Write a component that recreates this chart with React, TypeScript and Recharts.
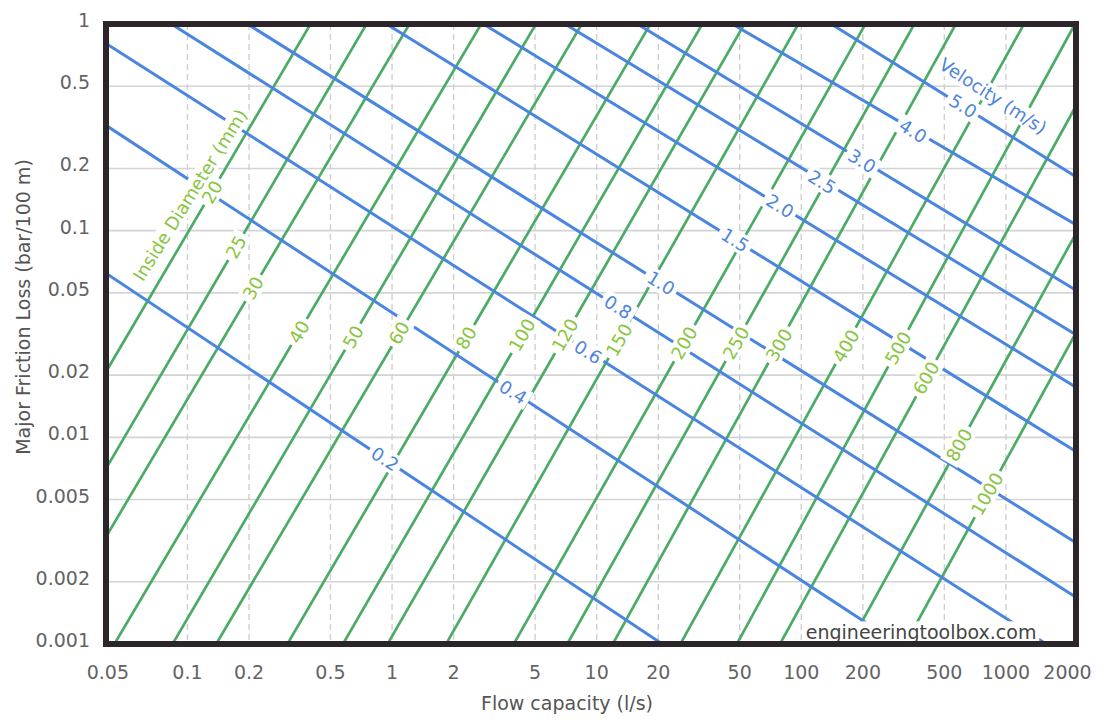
import React from "react";
import {
  LineChart,
  Line,
  XAxis,
  YAxis,
  CartesianGrid,
  ReferenceDot,
  ReferenceArea,
} from "recharts";

const FONT = "'DejaVu Sans', Verdana, sans-serif";

// axis ticks
const xTicks = [0.05, 0.1, 0.2, 0.5, 1, 2, 5, 10, 20, 50, 100, 200, 500, 1000, 2000];
const yTicks = [0.001, 0.002, 0.005, 0.01, 0.02, 0.05, 0.1, 0.2, 0.5, 1];
// gridline values
const xGrid = [0.1, 0.2, 0.5, 1, 2, 5, 10, 20, 50, 100, 200, 500, 1000];
const yGrid = [0.002, 0.005, 0.01, 0.02, 0.05, 0.1, 0.2, 0.5];

// velocity lines (m/s): [flow l/s, friction loss bar/100 m]
const velocityNames = ["0.2", "0.4", "0.6", "0.8", "1.0", "1.5", "2.0", "2.5", "3.0", "4.0", "5.0"];
const velocityStart: [number, number][] = [
  [0.03739, 0.06503], [0.03739, 0.3375], [0.03739, 0.8405], [0.0777, 1.046],
  [0.1827, 1.046], [0.8735, 1.046], [2.594, 1.046], [6.5, 1.046],
  [14.66, 1.046], [42.6, 1.046], [130.2, 1.046],
];
const velocityEnd: [number, number][] = [
  [23.89, 0.000916], [379.0, 0.000857], [2007, 0.000857], [2438, 0.00158],
  [2438, 0.0029], [2438, 0.00801], [2438, 0.0164], [2438, 0.0295],
  [2438, 0.0484], [2438, 0.1006], [2438, 0.1713],
];
const velocityLabelAt: [number, number][] = [
  [0.924, 0.007861], [3.903, 0.01658], [9.072, 0.02588], [12.72, 0.04274],
  [20.64, 0.05584], [47.46, 0.09017], [78.75, 0.1317], [126.4, 0.172],
  [198.2, 0.2174], [351.8, 0.3037], [617.5, 0.4012],
];

// inside diameter lines (mm)
const diameterNames = ["20", "25", "30", "40", "50", "60", "80", "100", "120", "150", "200", "250", "300", "400", "500", "600", "800", "1000"];
const diameterStart: [number, number][] = [
  [0.03739, 0.01854], [0.03739, 0.006291], [0.03739, 0.002949], [0.04226, 0.000936],
  [0.08134, 0.000936], [0.1329, 0.000936], [0.2961, 0.000936], [0.5537, 0.000936],
  [0.9148, 0.000936], [1.769, 0.000936], [3.786, 0.000936], [6.92, 0.000936],
  [11.55, 0.000936], [24.71, 0.000936], [46.41, 0.000926], [74.44, 0.000906],
  [160.0, 0.000876], [297.2, 0.000866],
];
const diameterEnd: [number, number][] = [
  [0.4157, 1.069], [0.7806, 1.069], [1.266, 1.069], [2.838, 1.069],
  [5.253, 1.069], [8.805, 1.069], [19.03, 1.069], [34.13, 1.069],
  [54.82, 1.069], [100.5, 1.069], [213.9, 1.069], [370.5, 1.069],
  [591.0, 1.069], [1272, 1.069], [2256, 1.069], [2411, 0.4735],
  [2411, 0.1143], [2411, 0.03783],
];
const diameterLabelAt: [number, number][] = [
  [0.1319, 0.1539], [0.1727, 0.08337], [0.2092, 0.05281], [0.351, 0.03236],
  [0.6446, 0.0306], [1.082, 0.032], [2.3, 0.03026], [4.319, 0.03129],
  [7.006, 0.03129], [12.87, 0.02959], [26.74, 0.02862], [48.0, 0.02862],
  [77.87, 0.02799], [165.5, 0.02768], [297.2, 0.02707], [407.2, 0.01938],
  [590.3, 0.009189], [809.3, 0.005323],
];

// titles placed on the chart
const velocityTitle = { text: "Velocity (m/s)", at: [865.9, 0.4483] as [number, number] };
const diameterTitle = { text: "Inside Diameter (mm)", at: [0.1029, 0.1489] as [number, number] };
const watermark = { text: "engineeringtoolbox.com", at: [384.9, 0.001145] as [number, number] };

const BLUE = "#4a86df";
const BLUE_TEXT = "#4d84dc";
const GREEN = "#4aab66";
const GREEN_TEXT = "#88c540";

const toSeries = (a: [number, number], b: [number, number]) => [
  { x: a[0], y: a[1] },
  { x: b[0], y: b[1] },
];

const charW = (c: string) => {
  if (c === "." || c === " ") return 0.32;
  if (c === "(" || c === ")") return 0.39;
  if (c === "/") return 0.34;
  if (c === "m") return 0.97;
  if (c === "i" || c === "l" || c === "j") return 0.28;
  if (c === "r" || c === "t") return 0.4;
  return 0.62;
};
const textWidth = (s: string, size: number) =>
  s.split("").reduce((w, c) => w + charW(c), 0) * size;

const Tag = (props: any) => {
  const { cx, cy, text, angle, color, size, pad = 4 } = props;
  if (cx == null || cy == null) return null;
  const w = textWidth(text, size) + pad * 2;
  const h = size + 2;
  return (
    <g transform={`translate(${cx},${cy}) rotate(${angle})`}>
      <rect x={-w / 2} y={-h / 2} width={w} height={h} fill="#ffffff" />
      <text
        x={0}
        y={0}
        textAnchor="middle"
        dominantBaseline="central"
        fontSize={size}
        fill={color}
        fontFamily={FONT}
      >
        {text}
      </text>
    </g>
  );
};

const XTick = (props: any) => {
  const { x, y, payload } = props;
  const v = payload.value;
  const dx = v === 0.05 ? -18 : 0;
  return (
    <text
      x={x + dx}
      y={y + 35}
      textAnchor="middle"
      fontSize={19}
      fill="#636363"
      fontFamily={FONT}
    >
      {String(v)}
    </text>
  );
};

const YTick = (props: any) => {
  const { x, y, payload } = props;
  const v = payload.value;
  return (
    <text
      x={x - 16}
      y={y - 4}
      textAnchor="end"
      dominantBaseline="central"
      fontSize={19}
      fill="#636363"
      fontFamily={FONT}
    >
      {String(v)}
    </text>
  );
};

export default function App() {
  return (
    <div style={{ width: 1096, height: 712 }}>
      <LineChart
        width={1096}
        height={712}
        margin={{ top: 16, right: 28, bottom: 0, left: 0 }}
      >
        <CartesianGrid
          vertical={false}
          horizontalValues={yGrid}
          stroke="#d4d4d4"
          strokeWidth={1.6}
        />
        <CartesianGrid
          horizontal={false}
          verticalValues={xGrid}
          stroke="#d0d0d0"
          strokeWidth={1.4}
          strokeDasharray="6 4"
        />
        <XAxis
          type="number"
          dataKey="x"
          scale="log"
          domain={[0.04, 2200]}
          allowDataOverflow
          ticks={xTicks}
          interval={0}
          height={76}
          axisLine={false}
          tickLine={false}
          tickSize={0}
          tickMargin={0}
          tick={<XTick />}
          label={{
            content: (p: any) => {
              const vb = p.viewBox || { x: 98, y: 636, width: 970 };
              return (
                <text
                  x={vb.x + vb.width / 2 - 24}
                  y={vb.y + 66}
                  textAnchor="middle"
                  fontSize={19}
                  fill="#555"
                  fontFamily={FONT}
                >
                  Flow capacity (l/s)
                </text>
              );
            },
          }}
        />
        <YAxis
          type="number"
          dataKey="y"
          scale="log"
          domain={[0.001, 1]}
          allowDataOverflow
          ticks={yTicks}
          interval={0}
          width={98}
          axisLine={false}
          tickLine={false}
          tickSize={0}
          tickMargin={0}
          tick={<YTick />}
          label={{
            content: (p: any) => {
              const vb = p.viewBox || { x: 0, y: 16, width: 98, height: 620 };
              const cx = vb.x + 15;
              const cy = vb.y + vb.height / 2 - 27;
              return (
                <text
                  x={cx}
                  y={cy}
                  transform={`rotate(-90, ${cx}, ${cy})`}
                  textAnchor="middle"
                  dominantBaseline="central"
                  fontSize={19}
                  fill="#555"
                  fontFamily={FONT}
                >
                  Major Friction Loss (bar/100 m)
                </text>
              );
            },
          }}
        />
        {diameterNames.map((n, i) => (
          <Line
            key={"d" + n}
            data={toSeries(diameterStart[i], diameterEnd[i])}
            dataKey="y"
            type="linear"
            stroke={GREEN}
            strokeWidth={2.7}
            dot={false}
            activeDot={false}
            isAnimationActive={false}
          />
        ))}
        {velocityNames.map((n, i) => (
          <Line
            key={"v" + n}
            data={toSeries(velocityStart[i], velocityEnd[i])}
            dataKey="y"
            type="linear"
            stroke={BLUE}
            strokeWidth={3}
            dot={false}
            activeDot={false}
            isAnimationActive={false}
          />
        ))}
        <ReferenceDot
          x={diameterTitle.at[0]}
          y={diameterTitle.at[1]}
          r={0}
          zIndex={1500}
          shape={(p: any) => (
            <Tag {...p} text={diameterTitle.text} angle={-58} color={GREEN_TEXT} size={18} pad={2} />
          )}
        />
        <ReferenceDot
          x={velocityTitle.at[0]}
          y={velocityTitle.at[1]}
          r={0}
          zIndex={1500}
          shape={(p: any) => (
            <Tag {...p} text={velocityTitle.text} angle={33} color={BLUE_TEXT} size={18} pad={2} />
          )}
        />
        {diameterNames.map((n, i) => (
          <ReferenceDot
            key={"dl" + n}
            x={diameterLabelAt[i][0]}
            y={diameterLabelAt[i][1]}
            r={0}
            zIndex={1500}
            shape={(p: any) => <Tag {...p} text={n} angle={-60} color={GREEN_TEXT} size={18} />}
          />
        ))}
        {velocityNames.map((n, i) => (
          <ReferenceDot
            key={"vl" + n}
            x={velocityLabelAt[i][0]}
            y={velocityLabelAt[i][1]}
            r={0}
            zIndex={1500}
            shape={(p: any) => <Tag {...p} text={n} angle={32} color={BLUE_TEXT} size={18} />}
          />
        ))}
        <ReferenceDot
          x={watermark.at[0]}
          y={watermark.at[1]}
          r={0}
          zIndex={1500}
          shape={(p: any) => (
            <Tag {...p} text={watermark.text} angle={0} color="#444" size={19} pad={2} />
          )}
        />
        <ReferenceArea
          x1={0.04}
          x2={2200}
          y1={0.001}
          y2={1}
          fill="none"
          fillOpacity={0}
          stroke="#2c2529"
          strokeWidth={6}
          zIndex={1600}
          ifOverflow="visible"
        />
      </LineChart>
    </div>
  );
}
